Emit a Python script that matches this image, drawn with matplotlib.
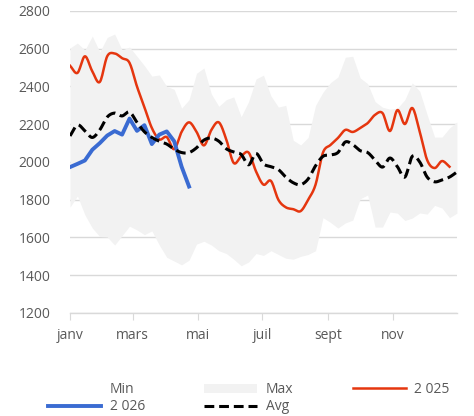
import numpy as np
import matplotlib
matplotlib.use('Agg')
import matplotlib.pyplot as plt
from matplotlib.patches import Patch
from matplotlib.lines import Line2D

plt.rcParams['font.family'] = ['Open Sans', 'DejaVu Sans']

# weekly points, day of year
weeks = np.arange(53) * 7

band_min = [1761, 1820, 1720, 1650, 1605, 1603, 1560, 1610, 1660, 1640, 1615, 1635, 1560, 1495,
            1475, 1455, 1480, 1565, 1580, 1560, 1530, 1515, 1485, 1450, 1470, 1515, 1505, 1530,
            1510, 1490, 1485, 1500, 1510, 1530, 1705, 1680, 1650, 1677, 1692, 1805, 1825, 1655,
            1655, 1735, 1729, 1690, 1703, 1730, 1724, 1770, 1756, 1705, 1729]
band_max = [2604, 2630, 2593, 2667, 2583, 2660, 2678, 2593, 2609, 2560, 2510, 2455, 2461, 2400,
            2385, 2285, 2330, 2470, 2498, 2360, 2295, 2330, 2345, 2240, 2320, 2440, 2460, 2350,
            2291, 2300, 2115, 2090, 2130, 2300, 2370, 2420, 2450, 2555, 2560, 2445, 2415, 2320,
            2290, 2280, 2285, 2330, 2419, 2375, 2250, 2132, 2132, 2180, 2212]
avg = [2138, 2196, 2165, 2130, 2170, 2238, 2259, 2244, 2265, 2210, 2160, 2130, 2110, 2095,
       2068, 2050, 2050, 2075, 2116, 2127, 2110, 2070, 2053, 2040, 1985, 2045, 1990, 1975,
       1960, 1920, 1890, 1880, 1910, 1980, 2030, 2037, 2050, 2106, 2092, 2060, 2050, 2010,
       1973, 2021, 1975, 1920, 2030, 2000, 1920, 1895, 1905, 1920, 1947]
y2025 = [2510, 2472, 2560, 2480, 2424, 2560, 2575, 2550, 2525, 2400, 2290, 2180, 2120, 2132,
         2068, 2160, 2210, 2160, 2088, 2170, 2210, 2120, 1995, 2030, 2050, 1950, 1880, 1900,
         1800, 1760, 1750, 1740, 1800, 1880, 2050, 2090, 2127, 2170, 2159, 2180, 2206, 2250,
         2259, 2164, 2275, 2201, 2286, 2160, 2010, 1968, 2005, 1975]
y2026 = [1973, 1990, 2008, 2065, 2100, 2140, 2164, 2145, 2230, 2165, 2195, 2095, 2145, 2162,
         2110, 1975, 1870]

month_days = [0, 59, 120, 181, 243, 304]
month_labels = ['janv', 'mars', 'mai', 'juil', 'sept', 'nov']


def smooth(x, y, n=12):
    # Catmull-Rom curve through the points (like Excel smoothed lines)
    x = np.asarray(x, float)
    y = np.asarray(y, float)
    px = np.concatenate([[2 * x[0] - x[1]], x, [2 * x[-1] - x[-2]]])
    py = np.concatenate([[2 * y[0] - y[1]], y, [2 * y[-1] - y[-2]]])
    xs, ys = [], []
    t = np.linspace(0, 1, n, endpoint=False)
    for i in range(1, len(px) - 2):
        for p, out in ((px, xs), (py, ys)):
            p0, p1, p2, p3 = p[i - 1], p[i], p[i + 1], p[i + 2]
            out.extend(0.5 * (2 * p1 + (-p0 + p2) * t + (2 * p0 - 5 * p1 + 4 * p2 - p3) * t ** 2
                              + (-p0 + 3 * p1 - 3 * p2 + p3) * t ** 3))
    xs.append(x[-1])
    ys.append(y[-1])
    return np.array(xs), np.array(ys)


fig = plt.figure(figsize=(4.74, 4.16), dpi=100)
ax = fig.add_axes([0.1477, 0.2476, 0.8163, 0.726])

red = '#e5360f'
blue = '#3a6bd2'
dash = (0, (3.2, 1.6))

ax.fill_between(weeks, band_min, band_max, color='#f2f2f2', lw=0, zorder=1)
ax.plot(*smooth(weeks[:len(y2025)], y2025), color=red, lw=1.8, zorder=3)
ax.plot(weeks[:len(y2026)], y2026, color=blue, lw=2.8, zorder=4)
ax.plot(*smooth(weeks, avg), color='black', lw=2.2, ls=dash, zorder=5)

ax.set_xlim(0, 364)
ax.set_ylim(1200, 2800)
ax.set_yticks(range(1200, 2801, 200))
ax.set_xticks(month_days)
ax.set_xticklabels(month_labels)
ax.grid(axis='y', color='#d9d9d9', lw=1)
ax.set_axisbelow(True)
for s in ['top', 'right', 'left']:
    ax.spines[s].set_visible(False)
ax.spines['bottom'].set_color('#d9d9d9')
ax.spines['bottom'].set_linewidth(1)
ax.tick_params(axis='y', length=0, pad=14, labelsize=10, labelcolor='#595959')
ax.tick_params(axis='x', length=5, color='#d9d9d9', pad=6, labelsize=10, labelcolor='#595959')

handles = [Patch(facecolor='white', edgecolor='none'),
           Line2D([], [], color=blue, lw=2.8),
           Patch(facecolor='#f2f2f2', edgecolor='none'),
           Line2D([], [], color='black', lw=2.2, ls=dash),
           Line2D([], [], color=red, lw=1.8)]
labels = ['Min', '2 026', 'Max', 'Avg', '2 025']
fig.legend(handles, labels, ncol=3, loc='center', bbox_to_anchor=(0.525, 0.043),
           frameon=False, handlelength=3.8, handleheight=0.6, columnspacing=4.3,
           handletextpad=0.6, labelspacing=0.15, fontsize=10, labelcolor='#595959')

fig.savefig('out.png', dpi=100)
